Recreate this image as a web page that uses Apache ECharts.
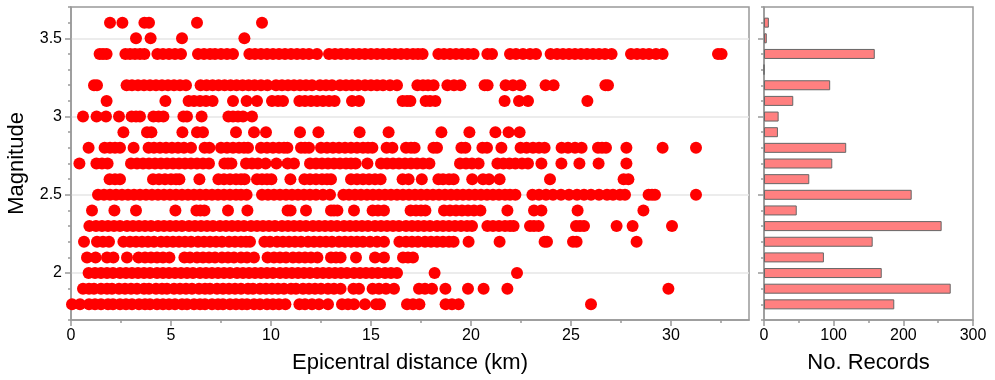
<!DOCTYPE html>
<html>
<head>
<meta charset="utf-8">
<script src="https://cdn.jsdelivr.net/npm/echarts@6/dist/echarts.min.js"></script>
<style>
  html, body { margin: 0; padding: 0; background: #fff; }
  #chart { width: 995px; height: 380px; }
</style>
</head>
<body>
<div id="chart"></div>
<script>
// epicentral distances (km), one row per magnitude
const distM18 = [0.05, 0.45, 0.9, 1.2, 1.5, 1.85, 2.1, 2.45, 2.75, 3.05, 3.4, 3.7, 3.95, 4.3, 4.6, 4.9, 5.2, 5.55, 5.8, 6.15, 6.45, 6.7, 7.05, 7.35, 7.6, 7.95, 8.25, 8.55, 8.8, 9.15, 9.45, 9.8, 10.1, 10.4, 10.72, 11.42, 11.7, 12.05, 12.4, 12.85, 13.55, 13.85, 14.15, 14.7, 15.25, 15.45, 16.8, 17.1, 17.42, 18.73, 19.05, 19.38, 26.0];
const distM19 = [0.6, 0.9, 1.15, 1.5, 1.8, 2.05, 2.4, 2.7, 3.0, 3.3, 3.65, 3.9, 4.25, 4.55, 4.8, 5.15, 5.45, 5.75, 6.05, 6.4, 6.7, 6.95, 7.3, 7.6, 7.9, 8.2, 8.5, 8.85, 9.1, 9.45, 9.75, 10.05, 10.35, 10.65, 11.0, 11.25, 11.6, 11.9, 12.2, 12.5, 12.85, 13.15, 13.48, 14.12, 14.4, 15.08, 15.4, 15.75, 16.15, 17.4, 17.7, 18.05, 18.72, 19.85, 20.63, 21.82, 29.87];
const distM20 = [0.88, 1.2, 1.5, 1.8, 2.1, 2.45, 2.75, 3.05, 3.35, 3.65, 3.95, 4.3, 4.6, 4.9, 5.2, 5.5, 5.8, 6.1, 6.45, 6.75, 7.05, 7.35, 7.65, 7.95, 8.3, 8.6, 8.9, 9.2, 9.5, 9.8, 10.1, 10.45, 10.75, 11.05, 11.35, 11.65, 11.95, 12.3, 12.6, 12.9, 13.2, 13.5, 13.8, 14.15, 14.45, 14.75, 15.05, 15.35, 15.7, 16.0, 16.3, 18.18, 22.3];
const distM21 = [0.8, 1.23, 1.8, 2.12, 2.8, 3.38, 3.7, 4.0, 4.3, 4.6, 4.92, 5.67, 5.95, 6.3, 6.6, 6.9, 7.2, 7.55, 7.85, 8.15, 8.5, 8.8, 9.15, 9.83, 10.15, 10.45, 10.75, 11.1, 11.4, 11.7, 12.0, 12.32, 13.0, 13.25, 13.48, 14.25, 15.2, 15.65, 16.6, 16.85, 17.1];
const distM22 = [0.65, 1.3, 1.6, 1.9, 2.62, 2.95, 3.25, 3.55, 3.85, 4.15, 4.5, 4.8, 5.1, 5.4, 5.7, 6.0, 6.35, 6.65, 6.95, 7.25, 7.55, 7.9, 8.2, 8.5, 8.75, 8.95, 9.67, 9.95, 10.3, 10.6, 10.9, 11.2, 11.5, 11.85, 12.15, 12.45, 12.75, 13.05, 13.4, 13.7, 14.0, 14.3, 14.6, 14.95, 15.3, 15.65, 16.42, 16.75, 17.05, 17.35, 17.7, 18.0, 18.3, 18.6, 18.9, 19.13, 19.88, 21.43, 23.68, 23.8, 25.1, 25.28, 28.28];
const distM23 = [0.92, 1.25, 1.55, 1.85, 2.15, 2.45, 2.8, 3.1, 3.4, 3.7, 4.0, 4.35, 4.65, 4.95, 5.25, 5.55, 5.9, 6.2, 6.5, 6.8, 7.1, 7.45, 7.75, 8.05, 8.35, 8.65, 9.0, 9.3, 9.6, 9.9, 10.2, 10.55, 10.85, 11.15, 11.45, 11.75, 12.1, 12.4, 12.7, 13.0, 13.3, 13.65, 13.95, 14.25, 14.55, 14.85, 15.2, 15.5, 15.8, 16.1, 16.4, 16.75, 17.05, 17.35, 17.65, 17.95, 18.3, 18.6, 18.9, 19.2, 19.5, 19.8, 20.05, 20.82, 21.1, 21.4, 21.7, 21.95, 22.13, 22.95, 23.15, 23.38, 25.25, 25.45, 25.65, 27.28, 28.08, 30.05];
const distM24 = [1.05, 2.17, 3.25, 5.22, 6.27, 6.47, 6.67, 7.85, 8.82, 10.83, 10.98, 11.75, 13.0, 13.15, 13.32, 14.15, 15.08, 15.35, 15.65, 16.98, 17.25, 17.5, 17.72, 18.65, 18.95, 19.25, 19.55, 19.85, 20.15, 20.47, 21.82, 23.15, 23.52, 25.33, 28.62];
const distM25 = [1.35, 1.65, 1.95, 2.25, 2.55, 2.85, 3.15, 3.45, 3.75, 4.05, 4.35, 4.65, 4.95, 5.25, 5.55, 5.85, 6.15, 6.45, 6.75, 7.05, 7.35, 7.65, 7.95, 8.25, 8.5, 8.78, 9.55, 9.85, 10.15, 10.45, 10.75, 11.05, 11.35, 11.65, 11.95, 12.25, 12.6, 12.95, 13.62, 13.9, 14.2, 14.5, 14.8, 15.1, 15.4, 15.7, 16.0, 16.3, 16.6, 16.9, 17.2, 17.5, 17.8, 18.1, 18.4, 18.7, 19.0, 19.3, 19.6, 19.9, 20.2, 20.5, 20.8, 21.1, 21.4, 21.7, 21.95, 22.22, 23.07, 23.4, 23.75, 24.1, 24.5, 24.9, 25.3, 25.65, 26.0, 26.4, 26.8, 27.1, 27.45, 27.7, 28.88, 29.05, 29.2, 31.25];
const distM26 = [1.93, 2.2, 2.45, 4.1, 4.4, 4.7, 5.0, 5.25, 5.42, 6.42, 7.37, 7.65, 7.95, 8.25, 8.5, 8.68, 9.3, 9.55, 9.8, 10.02, 10.97, 11.67, 11.95, 12.25, 12.55, 12.8, 13.0, 14.0, 14.3, 14.6, 14.9, 15.2, 15.48, 16.58, 16.88, 17.54, 18.37, 18.6, 18.9, 19.13, 20.06, 20.6, 20.9, 21.43, 23.95, 27.63, 27.87];
const distM27 = [0.42, 1.27, 1.55, 1.83, 3.0, 3.3, 3.6, 3.9, 4.2, 4.5, 4.8, 5.1, 5.4, 5.7, 6.0, 6.3, 6.6, 6.9, 7.67, 7.85, 8.02, 8.75, 9.05, 9.35, 9.73, 10.27, 10.83, 11.15, 11.95, 12.25, 12.55, 12.85, 13.15, 13.45, 13.75, 14.0, 14.23, 14.82, 15.5, 15.8, 16.1, 16.4, 16.7, 17.0, 17.3, 17.6, 17.92, 19.45, 19.75, 20.05, 20.38, 21.32, 21.62, 21.92, 22.22, 22.55, 22.85, 23.52, 24.52, 25.42, 26.38, 27.77];
const distM28 = [0.88, 1.68, 1.95, 2.2, 2.45, 3.13, 3.88, 4.15, 4.45, 4.75, 5.05, 5.35, 5.65, 6.0, 6.68, 6.92, 7.5, 7.8, 8.1, 8.4, 8.65, 8.85, 9.5, 9.8, 10.1, 10.4, 10.65, 10.82, 11.5, 11.7, 11.9, 12.5, 12.8, 13.1, 13.4, 13.7, 14.0, 14.3, 14.6, 14.85, 15.07, 15.78, 16.07, 16.75, 17.0, 17.18, 18.12, 18.3, 19.52, 19.72, 20.57, 20.8, 21.52, 22.48, 22.78, 23.1, 23.4, 23.68, 24.53, 24.85, 25.2, 25.53, 26.35, 26.55, 26.75, 27.77, 29.58, 31.25];
const distM29 = [2.62, 3.8, 4.02, 5.57, 6.3, 6.6, 8.25, 9.15, 9.75, 11.45, 12.37, 14.43, 15.88, 18.52, 19.92, 21.22, 21.88, 22.43];
const distM30 = [0.6, 1.28, 1.75, 2.4, 3.03, 3.25, 3.45, 4.12, 4.38, 4.62, 5.62, 5.8, 6.53, 7.87, 8.1, 8.35, 8.6, 9.05];
const distM31 = [1.78, 4.72, 5.88, 6.15, 6.45, 6.75, 7.08, 8.1, 8.78, 9.3, 10.05, 10.35, 10.6, 11.42, 11.7, 12.0, 12.3, 12.6, 12.9, 13.18, 14.05, 14.4, 16.58, 16.8, 16.97, 17.73, 17.95, 18.22, 21.68, 22.4, 22.85, 25.82];
const distM32 = [1.15, 1.3, 2.78, 3.05, 3.35, 3.65, 3.95, 4.25, 4.55, 4.85, 5.15, 5.45, 5.75, 6.48, 6.78, 7.08, 7.38, 7.68, 7.98, 8.28, 8.58, 8.88, 9.18, 9.5, 9.82, 10.25, 10.55, 10.85, 11.15, 11.45, 11.75, 12.05, 12.45, 12.75, 13.05, 13.45, 13.75, 14.05, 14.35, 14.7, 15.0, 15.3, 15.6, 15.95, 16.3, 17.32, 17.6, 17.85, 18.13, 18.82, 19.15, 19.47, 20.68, 20.83, 21.73, 22.1, 22.47, 23.73, 24.13, 26.72, 26.85];
const distM33 = [];
const distM34 = [1.43, 1.6, 1.78, 2.72, 2.95, 3.2, 3.45, 3.67, 4.32, 4.6, 4.9, 5.2, 5.5, 6.35, 6.65, 6.95, 7.2, 7.5, 7.8, 8.1, 8.92, 9.2, 9.5, 9.8, 10.1, 10.4, 10.7, 11.0, 11.3, 11.6, 11.9, 12.3, 12.9, 13.2, 13.5, 13.8, 14.1, 14.4, 14.7, 15.0, 15.3, 15.6, 15.9, 16.2, 16.5, 16.8, 17.1, 17.35, 17.58, 18.37, 18.65, 18.95, 19.25, 19.55, 19.85, 20.13, 20.82, 21.05, 21.95, 22.25, 22.6, 22.95, 23.25, 23.98, 24.3, 24.6, 24.9, 25.2, 25.5, 25.8, 26.1, 26.4, 26.7, 27.03, 28.0, 28.3, 28.6, 28.9, 29.25, 29.58, 32.35, 32.53];
const distM35 = [3.25, 3.98, 5.55, 8.67];
const distM36 = [1.95, 2.57, 3.67, 3.9, 6.3, 9.55];

const magnitudes = [1.8, 1.9, 2.0, 2.1, 2.2, 2.3, 2.4, 2.5, 2.6, 2.7, 2.8, 2.9, 3.0, 3.1, 3.2, 3.3, 3.4, 3.5, 3.6];
const distanceRows = [distM18, distM19, distM20, distM21, distM22, distM23, distM24, distM25, distM26, distM27, distM28, distM29, distM30, distM31, distM32, distM33, distM34, distM35, distM36];

// histogram: number of records per magnitude (same order as magnitudes)
const recordCounts = [187, 268, 169, 86, 156, 255, 47, 212, 65, 98, 118, 20, 21, 42, 95, 0, 159, 4, 7];

// ticks
const magCategories = ['1.7', '1.8', '1.9', '2.0', '2.1', '2.2', '2.3', '2.4', '2.5', '2.6', '2.7', '2.8', '2.9', '3.0', '3.1', '3.2', '3.3', '3.4', '3.5', '3.6', '3.7'];
const magTicks = [2, 2.5, 3, 3.5];
const magMinorTicks = [1.7, 1.8, 1.9, 2.0, 2.1, 2.2, 2.3, 2.4, 2.5, 2.6, 2.7, 2.8, 2.9, 3.0, 3.1, 3.2, 3.3, 3.4, 3.5, 3.6, 3.7];
const distTicks = [0, 5, 10, 15, 20, 25, 30];
const distMinorTicks = [2.5, 7.5, 12.5, 17.5, 22.5, 27.5, 32.5];

const font = 'Liberation Sans, Arial, sans-serif';
const axisColor = '#999';
const lineStyle = { color: axisColor, width: 1.5 };

const scatterData = [];
distanceRows.forEach((row, i) => {
  row.forEach((d) => scatterData.push([d, magnitudes[i]]));
});
const histData = recordCounts.map((c, i) => [c, magnitudes[i].toFixed(1)]);

const chart = echarts.init(document.getElementById('chart'), null, { renderer: 'canvas' });

chart.setOption({
  animation: false,
  backgroundColor: '#fff',
  grid: [
    { left: 71, top: 7, width: 678, height: 313, show: true, borderColor: axisColor, borderWidth: 1.5, containLabel: false, outerBoundsMode: 'none' },
    { left: 764, top: 7, width: 209, height: 313, show: true, borderColor: axisColor, borderWidth: 1.5, containLabel: false, outerBoundsMode: 'none' },
  ],
  xAxis: [
    {
      gridIndex: 0, type: 'value', position: 'bottom', min: 0, max: 33.9,
      axisLine: { show: true, onZero: false, lineStyle },
      axisTick: { show: true, customValues: distMinorTicks, length: 3, lineStyle },
      axisLabel: { show: false },
      splitLine: { show: false },
    },
    {
      gridIndex: 0, type: 'value', position: 'bottom', min: 0, max: 33.9,
      axisLine: { show: false, onZero: false },
      axisTick: { show: true, customValues: distTicks, length: 6, lineStyle },
      axisLabel: { customValues: distTicks, color: '#000', fontSize: 16, fontFamily: font, margin: 8 },
      splitLine: { show: false },
      name: 'Epicentral distance (km)',
      nameLocation: 'middle',
      nameGap: 32,
      nameTextStyle: { color: '#000', fontSize: 22, fontFamily: font },
    },
    {
      gridIndex: 1, type: 'value', position: 'bottom', min: 0, max: 300, interval: 100,
      axisLine: { show: true, onZero: false, lineStyle },
      axisTick: { show: true, length: 6, lineStyle },
      minorTick: { show: true, splitNumber: 2, length: 3, lineStyle },
      axisLabel: { color: '#000', fontSize: 16, fontFamily: font, margin: 8 },
      splitLine: { show: false },
      name: 'No. Records',
      nameLocation: 'middle',
      nameGap: 32,
      nameTextStyle: { color: '#000', fontSize: 22, fontFamily: font },
    },
  ],
  yAxis: [
    {
      gridIndex: 0, type: 'value', position: 'left', min: 1.7, max: 3.7,
      axisLine: { show: true, onZero: false, lineStyle },
      axisTick: { show: true, customValues: magMinorTicks, length: 3, lineStyle },
      axisLabel: { show: false },
      splitLine: { show: false },
    },
    {
      gridIndex: 0, type: 'value', position: 'left', min: 1.7, max: 3.7,
      axisLine: { show: false, onZero: false },
      axisTick: { show: true, customValues: magTicks, length: 6, lineStyle },
      axisLabel: { customValues: magTicks, color: '#000', fontSize: 16, fontFamily: font, margin: 9 },
      splitLine: { show: true, lineStyle: { color: '#e6e6e6', width: 1.5 } },
      name: 'Magnitude',
      nameLocation: 'middle',
      nameGap: 43,
      nameTextStyle: { color: '#000', fontSize: 22, fontFamily: font },
    },
    {
      gridIndex: 1, type: 'category', position: 'left', data: magCategories, boundaryGap: false,
      axisLine: { show: true, onZero: false, lineStyle },
      axisTick: { show: true, interval: 0, length: 3, lineStyle },
      axisLabel: { show: false, interval: 0 },
      splitLine: { show: false },
    },
    {
      gridIndex: 1, type: 'value', position: 'left', min: 1.7, max: 3.7,
      axisLine: { show: false, onZero: false },
      axisTick: { show: true, customValues: magTicks, length: 6, lineStyle },
      axisLabel: { show: false },
      splitLine: { show: false },
    },
  ],
  series: [
    {
      type: 'scatter',
      xAxisIndex: 0,
      yAxisIndex: 0,
      symbolSize: 12,
      itemStyle: { color: '#ff0000', opacity: 1 },
      data: scatterData,
    },
    {
      type: 'bar',
      xAxisIndex: 2,
      yAxisIndex: 2,
      barWidth: 10,
      itemStyle: { color: '#ff8080', borderColor: '#666', borderWidth: 1 },
      data: histData,
    },
  ],
});
</script>
</body>
</html>
